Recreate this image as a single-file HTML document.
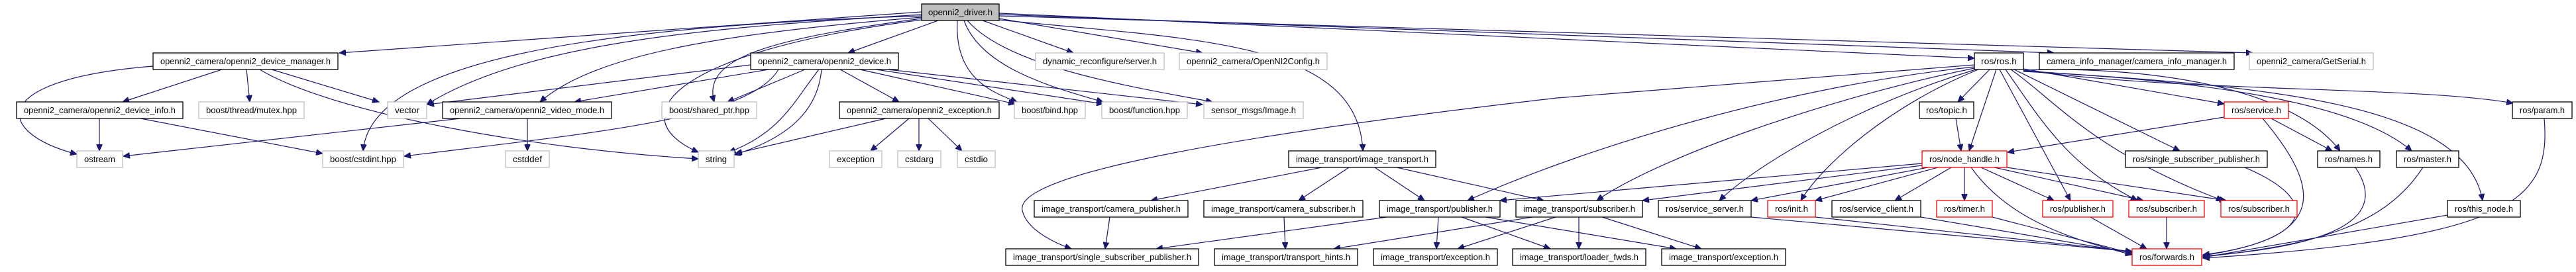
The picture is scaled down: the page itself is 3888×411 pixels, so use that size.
<!DOCTYPE html>
<html><head><meta charset="utf-8"><style>
html,body{margin:0;padding:0;background:#fff;}
svg{display:block;}
text{font-family:"Liberation Sans",sans-serif;font-size:13px;fill:#000;}
.g rect{fill:#fff;stroke:#bfbfbf;stroke-width:1.3;}
.b rect{fill:#fff;stroke:#000;stroke-width:1.3;}
.r rect{fill:#fff;stroke:#ff0000;stroke-width:1.3;}
.e path{fill:none;stroke:#191970;stroke-width:1.2;}
</style></head><body>
<svg width="3888" height="411" viewBox="0 0 3888 411" xmlns="http://www.w3.org/2000/svg">
<defs><marker id="a" markerUnits="userSpaceOnUse" markerWidth="11" markerHeight="9" refX="10" refY="4.5" orient="auto"><path d="M0,0 L10,4.5 L0,9 z" fill="#191970" stroke="#191970"/></marker></defs>
<g class="e" marker-end="url(#a)">
<path marker-end="url(#a)" d="M1391 18 L512 80"/>
<path marker-end="url(#a)" d="M1416 31 L1280 80"/>
<path marker-end="url(#a)" d="M1483 31 L1620 80"/>
<path marker-end="url(#a)" d="M1508 28 L1815 80"/>
<path marker-end="url(#a)" d="M1508 20 L2980 88"/>
<path marker-end="url(#a)" d="M1508 22 L3100 80"/>
<path marker-end="url(#a)" d="M1508 24 L3400 80"/>
<path marker-end="url(#a)" d="M1391 22 C1100 40, 800 60, 644 158"/>
<path marker-end="url(#a)" d="M1391 26 C1100 50, 900 80, 815 154"/>
<path marker-end="url(#a)" d="M1391 28 C1150 60, 1060 90, 1078 154"/>
<path marker-end="url(#a)" d="M1391 24 C900 40, 560 90, 548 228"/>
<path marker-end="url(#a)" d="M1391 30 C1000 80, 940 180, 1054 230"/>
<path marker-end="url(#a)" d="M1445 31 C1440 120, 1500 140, 1535 154"/>
<path marker-end="url(#a)" d="M1455 31 C1480 100, 1580 130, 1665 154"/>
<path marker-end="url(#a)" d="M1460 31 C1520 100, 1700 130, 1830 154"/>
<path marker-end="url(#a)" d="M1508 30 C1800 60, 2050 60, 2057 228"/>
<path marker-end="url(#a)" d="M335 105 L185 154"/>
<path marker-end="url(#a)" d="M372 105 L377 154"/>
<path marker-end="url(#a)" d="M410 105 L572 154"/>
<path marker-end="url(#a)" d="M231 100 C-20 120, -10 200, 116 233"/>
<path marker-end="url(#a)" d="M392 105 C500 170, 800 225, 1054 240"/>
<path marker-end="url(#a)" d="M150 179 L150 228"/>
<path marker-end="url(#a)" d="M212 179 L487 232"/>
<path marker-end="url(#a)" d="M695 179 L186 236"/>
<path marker-end="url(#a)" d="M796 179 L796 228"/>
<path marker-end="url(#a)" d="M1133 98 L645 158"/>
<path marker-end="url(#a)" d="M1160 105 L867 154"/>
<path marker-end="url(#a)" d="M1215 105 L1098 154"/>
<path marker-end="url(#a)" d="M1236 105 C1200 150, 1180 200, 1100 230"/>
<path marker-end="url(#a)" d="M1240 105 C1235 160, 1200 205, 1108 234"/>
<path marker-end="url(#a)" d="M1268 105 L1357 154"/>
<path marker-end="url(#a)" d="M1298 105 L1532 157"/>
<path marker-end="url(#a)" d="M1322 105 L1665 157"/>
<path marker-end="url(#a)" d="M1340 105 L1815 158"/>
<path marker-end="url(#a)" d="M1175 105 C1130 180, 900 200, 610 236"/>
<path marker-end="url(#a)" d="M1337 179 L1110 232"/>
<path marker-end="url(#a)" d="M1372 179 L1314 228"/>
<path marker-end="url(#a)" d="M1387 179 L1387 228"/>
<path marker-end="url(#a)" d="M1401 179 L1452 228"/>
<path marker-end="url(#a)" d="M1995 253 L1737 303"/>
<path marker-end="url(#a)" d="M2036 253 L1960 303"/>
<path marker-end="url(#a)" d="M2075 253 L2150 303"/>
<path marker-end="url(#a)" d="M2108 253 L2330 303"/>
<path marker-end="url(#a)" d="M1675 328 L1668 376"/>
<path marker-end="url(#a)" d="M1938 328 L1940 376"/>
<path marker-end="url(#a)" d="M2093 328 L1745 376"/>
<path marker-end="url(#a)" d="M2171 328 L2168 376"/>
<path marker-end="url(#a)" d="M2206 328 L2340 376"/>
<path marker-end="url(#a)" d="M2242 328 L2530 376"/>
<path marker-end="url(#a)" d="M2313 328 L2013 376"/>
<path marker-end="url(#a)" d="M2348 328 L2200 376"/>
<path marker-end="url(#a)" d="M2383 328 L2383 376"/>
<path marker-end="url(#a)" d="M2418 328 L2568 376"/>
<path marker-end="url(#a)" d="M2980 98 L2350 148 C1900 200, 1530 260, 1543 318 C1550 350, 1600 370, 1617 376"/>
<path marker-end="url(#a)" d="M2980 101 C2700 130, 2400 220, 2215 303"/>
<path marker-end="url(#a)" d="M2980 103 C2750 150, 2500 240, 2410 303"/>
<path marker-end="url(#a)" d="M2982 105 C2800 160, 2650 250, 2595 303"/>
<path marker-end="url(#a)" d="M2986 105 C2850 160, 2750 250, 2718 303"/>
<path marker-end="url(#a)" d="M3003 105 L2955 154"/>
<path marker-end="url(#a)" d="M3013 105 L2972 228"/>
<path marker-end="url(#a)" d="M3018 105 L3125 303"/>
<path marker-end="url(#a)" d="M3027 105 C3080 180, 3120 250, 3226 303"/>
<path marker-end="url(#a)" d="M3035 105 C3100 150, 3160 230, 3355 303"/>
<path marker-end="url(#a)" d="M3040 105 L3290 228"/>
<path marker-end="url(#a)" d="M3054 104 L3357 157"/>
<path marker-end="url(#a)" d="M3054 106 C3200 100, 3450 120, 3532 228"/>
<path marker-end="url(#a)" d="M3054 108 C3300 120, 3550 150, 3640 228"/>
<path marker-end="url(#a)" d="M3054 107 C3400 130, 3720 150, 3747 303"/>
<path marker-end="url(#a)" d="M3054 106 C3300 140, 3650 130, 3793 156"/>
<path marker-end="url(#a)" d="M2952 179 L2960 228"/>
<path marker-end="url(#a)" d="M3357 177 L3030 230"/>
<path marker-end="url(#a)" d="M3428 179 L3520 228"/>
<path marker-end="url(#a)" d="M3415 179 C3500 280, 3520 360, 3325 385"/>
<path marker-end="url(#a)" d="M3388 253 C3500 300, 3500 360, 3325 386"/>
<path marker-end="url(#a)" d="M3555 253 C3600 320, 3550 370, 3325 387"/>
<path marker-end="url(#a)" d="M3657 253 C3600 340, 3500 370, 3325 388"/>
<path marker-end="url(#a)" d="M3694 325 L3325 389"/>
<path marker-end="url(#a)" d="M3840 179 C3850 300, 3800 360, 3325 390"/>
<path marker-end="url(#a)" d="M2901 247 L2264 303"/>
<path marker-end="url(#a)" d="M2901 250 L2479 303"/>
<path marker-end="url(#a)" d="M2910 253 L2643 303"/>
<path marker-end="url(#a)" d="M2925 253 L2740 303"/>
<path marker-end="url(#a)" d="M2945 253 L2860 303"/>
<path marker-end="url(#a)" d="M2965 253 L2965 303"/>
<path marker-end="url(#a)" d="M2990 253 L3100 303"/>
<path marker-end="url(#a)" d="M3010 253 L3235 303"/>
<path marker-end="url(#a)" d="M3029 253 L3360 303"/>
<path marker-end="url(#a)" d="M2975 253 C3030 330, 3120 360, 3218 385"/>
<path marker-end="url(#a)" d="M2643 328 L3218 380"/>
<path marker-end="url(#a)" d="M2740 328 L3218 380"/>
<path marker-end="url(#a)" d="M2899 328 L3218 382"/>
<path marker-end="url(#a)" d="M3007 328 L3218 383"/>
<path marker-end="url(#a)" d="M3155 328 L3240 376"/>
<path marker-end="url(#a)" d="M3270 328 L3270 376"/>
</g>
<g class="b"><rect x="1391" y="6" width="117" height="25" style="fill:#bfbfbf"/><text x="1449.5" y="23" text-anchor="middle" textLength="97" lengthAdjust="spacingAndGlyphs">openni2_driver.h</text></g>
<g class="b"><rect x="231" y="80" width="279" height="25"/><text x="370.5" y="97" text-anchor="middle" textLength="257" lengthAdjust="spacingAndGlyphs">openni2_camera/openni2_device_manager.h</text></g>
<g class="b"><rect x="1133" y="80" width="223" height="25"/><text x="1244.5" y="97" text-anchor="middle" textLength="201" lengthAdjust="spacingAndGlyphs">openni2_camera/openni2_device.h</text></g>
<g class="g"><rect x="1563" y="80" width="194" height="25"/><text x="1660" y="97" text-anchor="middle" textLength="172" lengthAdjust="spacingAndGlyphs">dynamic_reconfigure/server.h</text></g>
<g class="g"><rect x="1780" y="80" width="223" height="25"/><text x="1891.5" y="97" text-anchor="middle" textLength="201" lengthAdjust="spacingAndGlyphs">openni2_camera/OpenNI2Config.h</text></g>
<g class="b"><rect x="2980" y="80" width="74" height="25"/><text x="3017" y="97" text-anchor="middle" textLength="54" lengthAdjust="spacingAndGlyphs">ros/ros.h</text></g>
<g class="b"><rect x="3078" y="80" width="294" height="25"/><text x="3225" y="97" text-anchor="middle" textLength="272" lengthAdjust="spacingAndGlyphs">camera_info_manager/camera_info_manager.h</text></g>
<g class="g"><rect x="3395" y="80" width="187" height="25"/><text x="3488.5" y="97" text-anchor="middle" textLength="165" lengthAdjust="spacingAndGlyphs">openni2_camera/GetSerial.h</text></g>
<g class="b"><rect x="25" y="154" width="251" height="25"/><text x="150.5" y="171" text-anchor="middle" textLength="229" lengthAdjust="spacingAndGlyphs">openni2_camera/openni2_device_info.h</text></g>
<g class="g"><rect x="300" y="154" width="159" height="25"/><text x="379.5" y="171" text-anchor="middle" textLength="137" lengthAdjust="spacingAndGlyphs">boost/thread/mutex.hpp</text></g>
<g class="g"><rect x="585" y="154" width="59" height="25"/><text x="614.5" y="171" text-anchor="middle" textLength="37" lengthAdjust="spacingAndGlyphs">vector</text></g>
<g class="b"><rect x="668" y="154" width="255" height="25"/><text x="795.5" y="171" text-anchor="middle" textLength="233" lengthAdjust="spacingAndGlyphs">openni2_camera/openni2_video_mode.h</text></g>
<g class="g"><rect x="999" y="154" width="143" height="25"/><text x="1070.5" y="171" text-anchor="middle" textLength="121" lengthAdjust="spacingAndGlyphs">boost/shared_ptr.hpp</text></g>
<g class="b"><rect x="1267" y="154" width="241" height="25"/><text x="1387.5" y="171" text-anchor="middle" textLength="219" lengthAdjust="spacingAndGlyphs">openni2_camera/openni2_exception.h</text></g>
<g class="g"><rect x="1531" y="154" width="107" height="25"/><text x="1584.5" y="171" text-anchor="middle" textLength="85" lengthAdjust="spacingAndGlyphs">boost/bind.hpp</text></g>
<g class="g"><rect x="1663" y="154" width="129" height="25"/><text x="1727.5" y="171" text-anchor="middle" textLength="107" lengthAdjust="spacingAndGlyphs">boost/function.hpp</text></g>
<g class="g"><rect x="1817" y="154" width="150" height="25"/><text x="1892" y="171" text-anchor="middle" textLength="128" lengthAdjust="spacingAndGlyphs">sensor_msgs/Image.h</text></g>
<g class="b"><rect x="2897" y="154" width="82" height="25"/><text x="2938" y="171" text-anchor="middle" textLength="62" lengthAdjust="spacingAndGlyphs">ros/topic.h</text></g>
<g class="r"><rect x="3357" y="154" width="97" height="25"/><text x="3405.5" y="171" text-anchor="middle" textLength="75" lengthAdjust="spacingAndGlyphs">ros/service.h</text></g>
<g class="b"><rect x="3792" y="154" width="90" height="25"/><text x="3837" y="171" text-anchor="middle" textLength="68" lengthAdjust="spacingAndGlyphs">ros/param.h</text></g>
<g class="g"><rect x="116" y="228" width="69" height="25"/><text x="150.5" y="245" text-anchor="middle" textLength="47" lengthAdjust="spacingAndGlyphs">ostream</text></g>
<g class="g"><rect x="487" y="228" width="122" height="25"/><text x="548" y="245" text-anchor="middle" textLength="100" lengthAdjust="spacingAndGlyphs">boost/cstdint.hpp</text></g>
<g class="g"><rect x="763" y="228" width="66" height="25"/><text x="796" y="245" text-anchor="middle" textLength="44" lengthAdjust="spacingAndGlyphs">cstddef</text></g>
<g class="g"><rect x="1054" y="228" width="54" height="25"/><text x="1081" y="245" text-anchor="middle" textLength="32" lengthAdjust="spacingAndGlyphs">string</text></g>
<g class="g"><rect x="1252" y="228" width="79" height="25"/><text x="1291.5" y="245" text-anchor="middle" textLength="57" lengthAdjust="spacingAndGlyphs">exception</text></g>
<g class="g"><rect x="1355" y="228" width="65" height="25"/><text x="1387.5" y="245" text-anchor="middle" textLength="43" lengthAdjust="spacingAndGlyphs">cstdarg</text></g>
<g class="g"><rect x="1445" y="228" width="57" height="25"/><text x="1473.5" y="245" text-anchor="middle" textLength="35" lengthAdjust="spacingAndGlyphs">cstdio</text></g>
<g class="b"><rect x="1945" y="228" width="222" height="25"/><text x="2056" y="245" text-anchor="middle" textLength="200" lengthAdjust="spacingAndGlyphs">image_transport/image_transport.h</text></g>
<g class="r"><rect x="2901" y="228" width="128" height="25"/><text x="2965" y="245" text-anchor="middle" textLength="106" lengthAdjust="spacingAndGlyphs">ros/node_handle.h</text></g>
<g class="b"><rect x="3208" y="228" width="214" height="25"/><text x="3315" y="245" text-anchor="middle" textLength="192" lengthAdjust="spacingAndGlyphs">ros/single_subscriber_publisher.h</text></g>
<g class="b"><rect x="3498" y="228" width="94" height="25"/><text x="3545" y="245" text-anchor="middle" textLength="72" lengthAdjust="spacingAndGlyphs">ros/names.h</text></g>
<g class="b"><rect x="3617" y="228" width="94" height="25"/><text x="3664" y="245" text-anchor="middle" textLength="72" lengthAdjust="spacingAndGlyphs">ros/master.h</text></g>
<g class="b"><rect x="1561" y="303" width="232" height="25"/><text x="1677" y="320" text-anchor="middle" textLength="210" lengthAdjust="spacingAndGlyphs">image_transport/camera_publisher.h</text></g>
<g class="b"><rect x="1817" y="303" width="240" height="25"/><text x="1937" y="320" text-anchor="middle" textLength="218" lengthAdjust="spacingAndGlyphs">image_transport/camera_subscriber.h</text></g>
<g class="b"><rect x="2082" y="303" width="182" height="25"/><text x="2173" y="320" text-anchor="middle" textLength="160" lengthAdjust="spacingAndGlyphs">image_transport/publisher.h</text></g>
<g class="b"><rect x="2288" y="303" width="191" height="25"/><text x="2383.5" y="320" text-anchor="middle" textLength="169" lengthAdjust="spacingAndGlyphs">image_transport/subscriber.h</text></g>
<g class="b"><rect x="2503" y="303" width="140" height="25"/><text x="2573" y="320" text-anchor="middle" textLength="118" lengthAdjust="spacingAndGlyphs">ros/service_server.h</text></g>
<g class="r"><rect x="2668" y="303" width="72" height="25"/><text x="2704" y="320" text-anchor="middle" textLength="50" lengthAdjust="spacingAndGlyphs">ros/init.h</text></g>
<g class="b"><rect x="2765" y="303" width="134" height="25"/><text x="2832" y="320" text-anchor="middle" textLength="112" lengthAdjust="spacingAndGlyphs">ros/service_client.h</text></g>
<g class="r"><rect x="2923" y="303" width="84" height="25"/><text x="2965" y="320" text-anchor="middle" textLength="62" lengthAdjust="spacingAndGlyphs">ros/timer.h</text></g>
<g class="r"><rect x="3083" y="303" width="106" height="25"/><text x="3136" y="320" text-anchor="middle" textLength="84" lengthAdjust="spacingAndGlyphs">ros/publisher.h</text></g>
<g class="r"><rect x="3213" y="303" width="114" height="25"/><text x="3270" y="320" text-anchor="middle" textLength="92" lengthAdjust="spacingAndGlyphs">ros/subscriber.h</text></g>
<g class="r"><rect x="3352" y="303" width="115" height="25"/><text x="3409.5" y="320" text-anchor="middle" textLength="93" lengthAdjust="spacingAndGlyphs">ros/subscriber.h</text></g>
<g class="b"><rect x="3694" y="303" width="110" height="25"/><text x="3749" y="320" text-anchor="middle" textLength="88" lengthAdjust="spacingAndGlyphs">ros/this_node.h</text></g>
<g class="b"><rect x="1518" y="376" width="291" height="25"/><text x="1663.5" y="393" text-anchor="middle" textLength="269" lengthAdjust="spacingAndGlyphs">image_transport/single_subscriber_publisher.h</text></g>
<g class="b"><rect x="1833" y="376" width="216" height="25"/><text x="1941" y="393" text-anchor="middle" textLength="194" lengthAdjust="spacingAndGlyphs">image_transport/transport_hints.h</text></g>
<g class="b"><rect x="2073" y="376" width="187" height="25"/><text x="2166.5" y="393" text-anchor="middle" textLength="165" lengthAdjust="spacingAndGlyphs">image_transport/exception.h</text></g>
<g class="b"><rect x="2283" y="376" width="201" height="25"/><text x="2383.5" y="393" text-anchor="middle" textLength="179" lengthAdjust="spacingAndGlyphs">image_transport/loader_fwds.h</text></g>
<g class="b"><rect x="2508" y="376" width="187" height="25"/><text x="2601.5" y="393" text-anchor="middle" textLength="165" lengthAdjust="spacingAndGlyphs">image_transport/exception.h</text></g>
<g class="r"><rect x="3218" y="376" width="105" height="25"/><text x="3270.5" y="393" text-anchor="middle" textLength="83" lengthAdjust="spacingAndGlyphs">ros/forwards.h</text></g>
</svg>
</body></html>
